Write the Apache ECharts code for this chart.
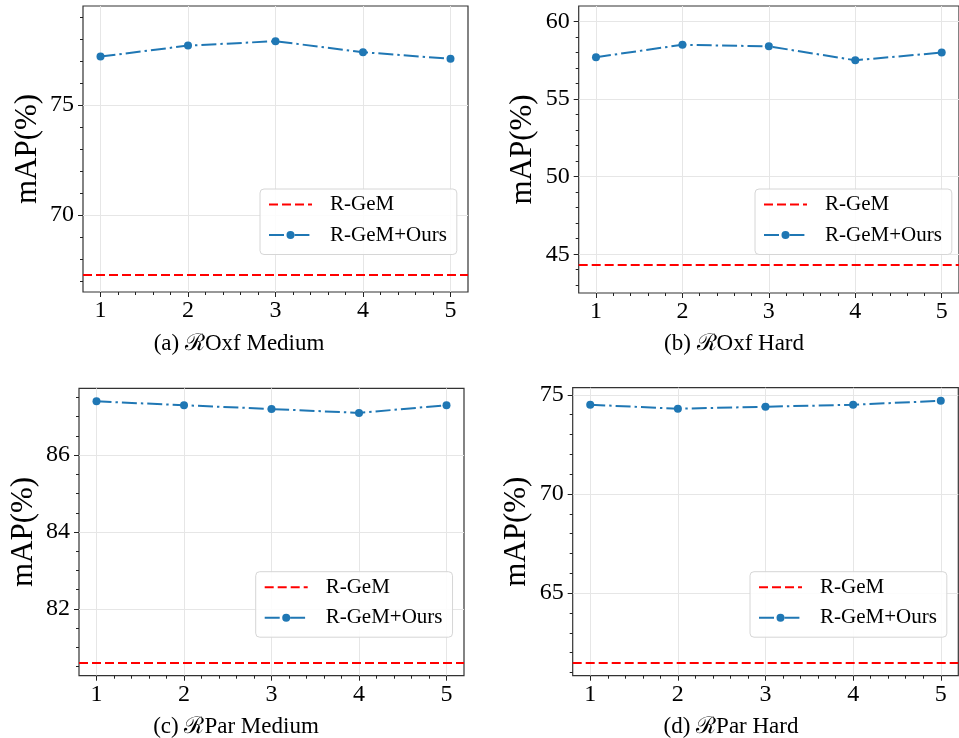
<!DOCTYPE html>
<html>
<head>
<meta charset="utf-8">
<script src="https://cdn.jsdelivr.net/npm/echarts@6/dist/echarts.min.js"></script>
<style>
html,body{margin:0;padding:0;background:#fff;}
#c{width:959px;height:738px;}
</style>
</head>
<body>
<div id="c"></div>
<script>
// ---- data ----
const xValues = [1, 2, 3, 4, 5];
const xTicks = [1, 2, 3, 4, 5];
const seriesNames = ['R-GeM', 'R-GeM+Ours'];
const captions = ['(a) \u211BOxf Medium', '(b) \u211BOxf Hard', '(c) \u211BPar Medium', '(d) \u211BPar Hard'];
const oxfMediumOurs = [77.2, 77.7, 77.9, 77.4, 77.1];
const oxfMediumBase = 67.3;
const oxfHardOurs = [57.7, 58.5, 58.4, 57.5, 58.0];
const oxfHardBase = 44.3;
const parMediumOurs = [87.4, 87.3, 87.2, 87.1, 87.3];
const parMediumBase = 80.6;
const parHardOurs = [74.5, 74.3, 74.4, 74.5, 74.7];
const parHardBase = 61.5;
const oxfMediumTicks = [70, 75];
const oxfHardTicks = [45, 50, 55, 60];
const parMediumTicks = [82, 84, 86];
const parHardTicks = [65, 70, 75];
const yRanges = [[66.5, 79.5], [42.5, 61.0], [80.26, 87.74], [60.84, 75.36]];
const yMajor = [5, 5, 2, 5];
const yMinorSplit = [5, 5, 4, 5];
const xRange = [0.8, 5.2];

const panels = [
  {ours: oxfMediumOurs, base: oxfMediumBase, ticks: oxfMediumTicks},
  {ours: oxfHardOurs, base: oxfHardBase, ticks: oxfHardTicks},
  {ours: parMediumOurs, base: parMediumBase, ticks: parMediumTicks},
  {ours: parHardOurs, base: parHardBase, ticks: parHardTicks}
];

// ---- layout ----
const FONT = "'Liberation Serif', 'DejaVu Serif', serif";
const gridBoxes = [
  {left: 83, top: 6, width: 385, height: 286},
  {left: 578.7, top: 6, width: 384, height: 287},
  {left: 79, top: 388.3, width: 385, height: 287.4},
  {left: 572.7, top: 387.7, width: 385.6, height: 288}
];
const legendPos = [
  {left: 260, top: 189},
  {left: 755, top: 189},
  {left: 255.7, top: 571.7},
  {left: 750, top: 571.7}
];
const captionPos = [[239, 344], [734, 344], [236, 727], [731, 727]];

const BLUE = '#1f77b4';
const RED = '#ff0000';
const TICK = {color: '#222', width: 1};

const option = {
  animation: false,
  backgroundColor: '#fff',
  grid: [], xAxis: [], yAxis: [], series: [], legend: [], graphic: []
};

panels.forEach((p, i) => {
  option.grid.push(Object.assign({
    show: true, borderColor: '#333', borderWidth: 1.2, backgroundColor: 'transparent'
  }, gridBoxes[i]));
  option.xAxis.push({
    type: 'value', gridIndex: i, min: xRange[0], max: xRange[1],
    minInterval: 1, maxInterval: 1,
    axisLine: {show: false},
    axisTick: {show: true, length: 5, lineStyle: TICK, customValues: xTicks},
    minorTick: {show: true, splitNumber: 5, length: 3, lineStyle: TICK},
    axisLabel: {show: true, fontFamily: FONT, fontSize: 24, color: '#000', margin: 7,
      customValues: xTicks},
    splitLine: {show: true, lineStyle: {color: '#e6e6e6', width: 1}}
  });
  option.yAxis.push({
    type: 'value', gridIndex: i, min: yRanges[i][0], max: yRanges[i][1],
    minInterval: yMajor[i], maxInterval: yMajor[i],
    name: 'mAP(%)', nameLocation: 'middle', nameGap: 40,
    nameTextStyle: {fontFamily: FONT, fontSize: 31, color: '#000'},
    axisLine: {show: false},
    axisTick: {show: true, length: 5, lineStyle: TICK, customValues: p.ticks},
    minorTick: {show: true, splitNumber: yMinorSplit[i], length: 3, lineStyle: TICK},
    axisLabel: {show: true, fontFamily: FONT, fontSize: 24, color: '#000', margin: 9,
      customValues: p.ticks},
    splitLine: {show: true, lineStyle: {color: '#e6e6e6', width: 1}}
  });
  option.series.push({
    name: seriesNames[0], type: 'line', xAxisIndex: i, yAxisIndex: i,
    data: [], symbol: 'none',
    lineStyle: {color: RED, width: 2, type: [9, 4]},
    itemStyle: {color: RED},
    markLine: {
      silent: true, symbol: 'none', label: {show: false},
      lineStyle: {color: RED, width: 2, type: [9, 4]},
      emphasis: {disabled: true},
      data: [{yAxis: p.base}]
    },
    z: 3
  });
  option.series.push({
    name: seriesNames[1], type: 'line', xAxisIndex: i, yAxisIndex: i,
    data: xValues.map((x, k) => [x, p.ours[k]]),
    symbol: 'circle', symbolSize: 8,
    lineStyle: {color: BLUE, width: 2, type: [15, 4, 2.4, 4]},
    itemStyle: {color: BLUE},
    z: 4
  });
  option.legend.push({
    orient: 'vertical', left: legendPos[i].left, top: legendPos[i].top,
    data: [
      {name: seriesNames[0], itemStyle: {opacity: 0}, lineStyle: {color: RED, width: 2, type: [9, 4], opacity: 1}},
      {name: seriesNames[1], lineStyle: {color: BLUE, width: 2, type: [15, 4, 2.4, 4]}}
    ],
    itemWidth: 43, itemHeight: 10, itemGap: 9.5,
    padding: [5, 10, 9, 8],
    backgroundColor: 'rgba(255,255,255,0.85)',
    borderColor: '#d6d6d6', borderWidth: 1, borderRadius: 4,
    selectedMode: false,
    textStyle: {fontFamily: FONT, fontSize: 21, color: '#000', padding: [0, 0, 0, 13]}
  });
  option.graphic.push({
    type: 'text', x: captionPos[i][0], y: captionPos[i][1],
    style: {text: captions[i], font: '23px ' + FONT, fill: '#000',
      textAlign: 'center', textVerticalAlign: 'middle'}
  });
});

const chart = echarts.init(document.getElementById('c'), null, {renderer: 'canvas'});
chart.setOption(option);
</script>
</body>
</html>
